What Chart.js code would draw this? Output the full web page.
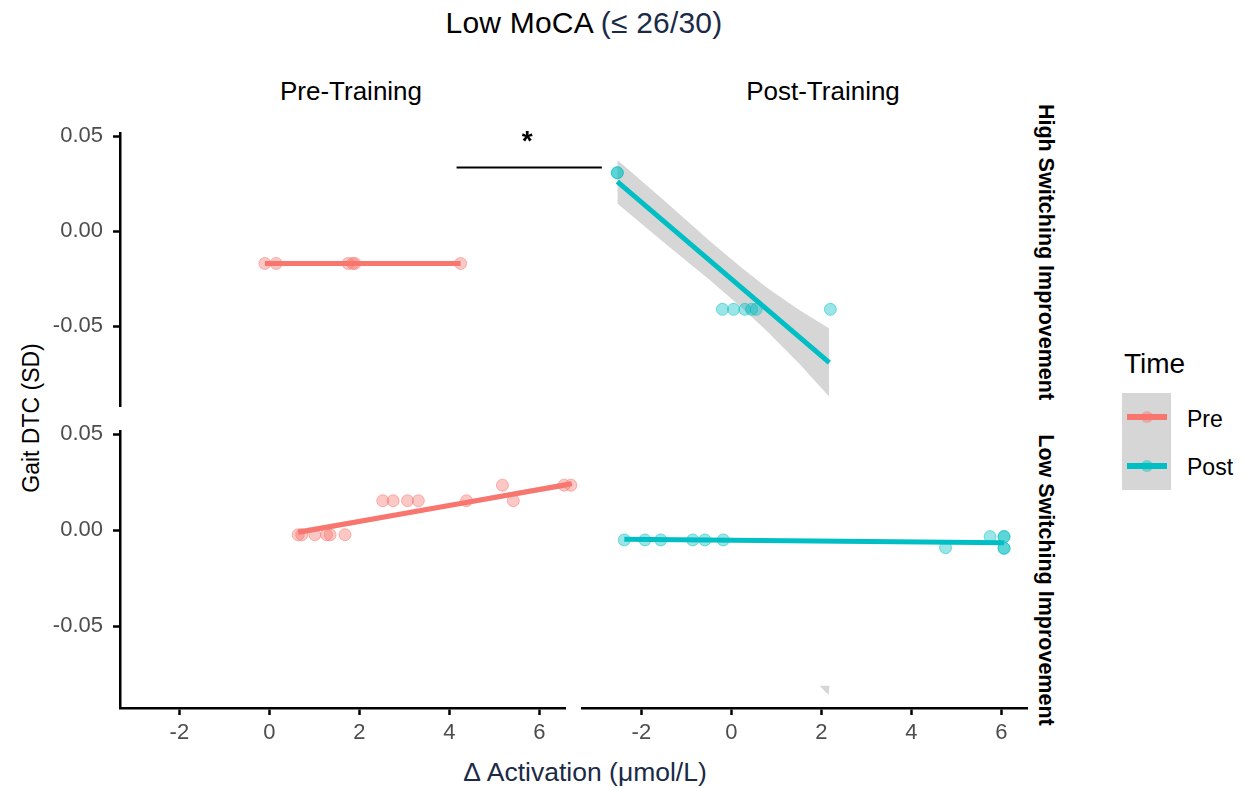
<!DOCTYPE html>
<html lang="en">
<head>
    <meta charset="UTF-8">
    <title>Low MoCA - Gait DTC vs Activation</title>
    <style>
        body {
            margin: 0;
            width: 1247px;
            height: 788px;
            background: #ffffff;
            font-family: "Liberation Sans", Arial, sans-serif;
            position: relative;
            overflow: hidden;
        }
        canvas, .txt, .box {
            position: absolute;
        }
        .txt {
            white-space: nowrap;
            line-height: 1;
            color: #000;
        }
        .ctr { transform: translate(-50%, -50%); }
        .mid { transform: translateY(-50%); }
        .navy { color: #1b2a47; }
    </style>
</head>
<body>
    <div class="txt ctr" style="left:584px; top:23px; font-size:30px; letter-spacing:0.2px;">Low MoCA <span class="navy">(≤ 26/30)</span></div>

    <div class="txt ctr" style="left:351px; top:91px; font-size:26px;">Pre-Training</div>
    <div class="txt ctr" style="left:823px; top:91px; font-size:26px;">Post-Training</div>

    <div class="txt ctr" style="left:1045px; top:252px; font-size:21.5px; font-weight:bold; transform:translate(-50%,-50%) rotate(90deg);">High Switching Improvement</div>
    <div class="txt ctr" style="left:1045px; top:580px; font-size:21.5px; font-weight:bold; transform:translate(-50%,-50%) rotate(90deg);">Low Switching Improvement</div>

    <div class="txt ctr" style="left:31px; top:418px; font-size:23px; transform:translate(-50%,-50%) rotate(-90deg);">Gait DTC (SD)</div>
    <div class="txt ctr navy" style="left:585px; top:772px; font-size:26.5px;">Δ Activation (μmol/L)</div>

    <canvas id="tl" width="640" height="320" style="left:0px; top:110px;"></canvas>
    <canvas id="bl" width="600" height="380" style="left:0px; top:408px;"></canvas>
    <canvas id="tr" width="485" height="320" style="left:562px; top:110px;"></canvas>
    <canvas id="br" width="485" height="380" style="left:562px; top:408px;"></canvas>

    <!-- legend -->
    <div class="txt mid" style="left:1124px; top:364px; font-size:28px;">Time</div>
    <div class="box" style="left:1122px; top:393px; width:49px; height:97px; background:#d6d6d6;"></div>
    <div class="box" style="left:1127px; top:414px; width:40px; height:6px; background:#F8766D;"></div>
    <div class="box" style="left:1141px; top:411px; width:12px; height:12px; border-radius:50%; background:rgba(248,118,109,0.45);"></div>
    <div class="box" style="left:1127px; top:463px; width:40px; height:6px; background:#00BFC4;"></div>
    <div class="box" style="left:1141px; top:460px; width:12px; height:12px; border-radius:50%; background:rgba(0,191,196,0.45);"></div>
    <div class="txt mid" style="left:1187px; top:419px; font-size:23px;">Pre</div>
    <div class="txt mid" style="left:1187px; top:467px; font-size:23px;">Post</div>

    <script src="https://cdn.jsdelivr.net/npm/chart.js"></script>
    <script>
        // axes
        const xTicks = [-2, 0, 2, 4, 6];
        const yTicks = [-0.05, 0, 0.05];
        const xRange = [-3.32, 6.57];
        const yRange = [-0.0925, 0.0516];

        // Pre-Training, High Switching
        const preHighX = [-0.1, 0.15, 1.75, 1.85, 1.9, 4.25];
        const preHighY = [-0.017, -0.017, -0.017, -0.017, -0.017, -0.017];
        const preHighFitX = [-0.1, 4.25];
        const preHighFitY = [-0.017, -0.017];

        // Post-Training, High Switching
        const postHighX = [-2.535, -2.535, -0.2, 0.05, 0.3, 0.45, 0.55, 2.2];
        const postHighY = [0.0296, 0.0296, -0.0407, -0.0407, -0.0407, -0.0407, -0.0407, -0.0407];
        const postHighFitX = [-2.535, 2.176];
        const postHighFitY = [0.025, -0.0681];
        const postHighBandX = [-2.535, -1.5, -0.5, 0.2, 0.8, 1.5, 2.176];
        const postHighBandHi = [0.0362, 0.0154, -0.0052, -0.0188, -0.0297, -0.0409, -0.0505];
        const postHighBandLo = [0.0138, -0.0063, -0.0252, -0.0392, -0.0521, -0.0685, -0.0857];

        // Pre-Training, Low Switching
        const preLowX = [0.64, 0.72, 1.01, 1.27, 1.35, 1.68, 2.52, 2.75, 3.07, 3.31, 4.38, 5.18, 5.42, 6.55, 6.7, 6.72];
        const preLowY = [-0.0023, -0.0023, -0.0023, -0.0023, -0.0023, -0.0023, 0.0154, 0.0154, 0.0154, 0.0154, 0.0154, 0.0235, 0.0154, 0.0235, 0.0235, 0.0235];
        const preLowFitX = [0.64, 6.72];
        const preLowFitY = [-0.001, 0.0242];
        const preLowBandX = [0.64, 3.5, 6.72];
        const preLowBandHi = [0.0006, 0.0118, 0.0258];
        const preLowBandLo = [-0.0026, 0.0098, 0.0226];

        // Post-Training, Low Switching
        const postLowX = [-2.38, -1.92, -1.57, -0.86, -0.59, -0.18, 4.76, 5.75, 6.06, 6.06, 6.06, 6.06];
        const postLowY = [-0.006, -0.006, -0.006, -0.006, -0.006, -0.006, -0.010, -0.0043, -0.0043, -0.0043, -0.0103, -0.0103];
        const postLowFitX = [-2.38, 6.06];
        const postLowFitY = [-0.0057, -0.0074];
        const postLowSpillX = [1.96, 2.18, 2.16];
        const postLowSpillY = [-0.081, -0.081, -0.0858];

        // significance bracket
        const sigX = [4.16, 7.39];
        const sigY = [0.0335, 0.0335];
        const starX = 5.73, starY = 0.051;

        const PRE = '#F8766D', POST = '#00BFC4';
        const FONT = '"Liberation Sans", Arial, sans-serif';
        Chart.defaults.font.family = FONT;

        function pts(xs, ys) {
            return xs.map((x, i) => ({ x: x, y: ys[i] }));
        }

        function alpha(hex, a) {
            const n = parseInt(hex.slice(1), 16);
            return 'rgba(' + (n >> 16) + ',' + ((n >> 8) & 255) + ',' + (n & 255) + ',' + a + ')';
        }

        function pointSet(xs, ys, col) {
            return {
                data: pts(xs, ys), order: 2, clip: false,
                pointRadius: 6, pointHoverRadius: 11, pointBorderWidth: 1,
                backgroundColor: alpha(col, 0.4), borderColor: alpha(col, 0.5)
            };
        }

        function fitSet(xs, ys, col) {
            return {
                data: pts(xs, ys), order: 0, clip: false, showLine: true,
                borderColor: col, borderWidth: 5, pointRadius: 0, borderCapStyle: 'butt'
            };
        }

        function bandSets(xs, hi, lo) {
            return [
                { data: pts(xs, hi), order: 3, showLine: true, borderWidth: 0, pointRadius: 0,
                  fill: '+1', backgroundColor: 'rgba(153,153,153,0.4)' },
                { data: pts(xs, lo), order: 4, showLine: true, borderWidth: 0, pointRadius: 0 }
            ];
        }

        function xScale(show) {
            return {
                type: 'linear', min: xRange[0], max: xRange[1], display: show,
                afterBuildTicks: s => { s.ticks = xTicks.map(v => ({ value: v })); },
                afterFit: s => { if (show) s.height = 60; },
                grid: { drawOnChartArea: false, tickLength: 7, tickWidth: 2.5, tickColor: '#000' },
                border: { display: true, color: '#000', width: 2.5 },
                ticks: { color: '#4d4d4d', font: { size: 22 }, padding: 5, maxRotation: 0, autoSkip: false,
                         callback: v => String(v) }
            };
        }

        function yScale(show) {
            return {
                type: 'linear', min: yRange[0], max: yRange[1], display: show,
                afterBuildTicks: s => { s.ticks = yTicks.map(v => ({ value: v })); },
                afterFit: s => { if (show) s.width = 120; },
                grid: { drawOnChartArea: false, tickLength: 7, tickWidth: 2.5, tickColor: '#000' },
                border: { display: true, color: '#000', width: 2.5 },
                ticks: { color: '#4d4d4d', font: { size: 22 }, padding: 10,
                         callback: v => v.toFixed(2) }
            };
        }

        const starPlugin = {
            id: 'star',
            afterDatasetsDraw(chart) {
                if (chart.canvas.id !== 'tl') return;
                const ctx = chart.ctx;
                const px = chart.scales.x.getPixelForValue(starX);
                const py = chart.scales.y.getPixelForValue(starY);
                ctx.save();
                ctx.font = 'bold 28px ' + FONT;
                ctx.fillStyle = '#000';
                ctx.textAlign = 'center';
                ctx.textBaseline = 'alphabetic';
                ctx.fillText('*', px, py + 16);
                ctx.restore();
            }
        };

        function panel(id, datasets, showX, showY, pad) {
            new Chart(document.getElementById(id), {
                type: 'scatter',
                data: { datasets: datasets },
                options: {
                    responsive: false,
                    animation: false,
                    layout: { padding: pad },
                    plugins: { legend: { display: false }, tooltip: { enabled: false } },
                    scales: { x: xScale(showX), y: yScale(showY) }
                },
                plugins: [starPlugin]
            });
        }

        // top-left: pre-training, high switching
        panel('tl', [
            fitSet(preHighFitX, preHighFitY, PRE),
            pointSet(preHighX, preHighY, PRE),
            { data: pts(sigX, sigY), order: 0, clip: false, showLine: true,
              borderColor: '#000', borderWidth: 2, pointRadius: 0 }
        ], false, true, { top: 20, bottom: 20, left: 0, right: 75 });

        // top-right: post-training, high switching
        panel('tr', [
            fitSet(postHighFitX, postHighFitY, POST),
            pointSet(postHighX, postHighY, POST),
            ...bandSets(postHighBandX, postHighBandHi, postHighBandLo)
        ], false, false, { top: 20, bottom: 20, left: 20, right: 20 });

        // bottom-left: pre-training, low switching
        panel('bl', [
            fitSet(preLowFitX, preLowFitY, PRE),
            pointSet(preLowX, preLowY, PRE),
            ...bandSets(preLowBandX, preLowBandHi, preLowBandLo)
        ], true, true, { top: 20, bottom: 20, left: 0, right: 35 });

        // bottom-right: post-training, low switching
        panel('br', [
            fitSet(postLowFitX, postLowFitY, POST),
            pointSet(postLowX, postLowY, POST),
            { data: pts(postLowSpillX, postLowSpillY), order: 3, showLine: true, borderWidth: 0,
              pointRadius: 0, fill: 'shape', backgroundColor: 'rgba(153,153,153,0.4)' }
        ], true, false, { top: 20, bottom: 20, left: 20, right: 20 });
    </script>
</body>
</html>
